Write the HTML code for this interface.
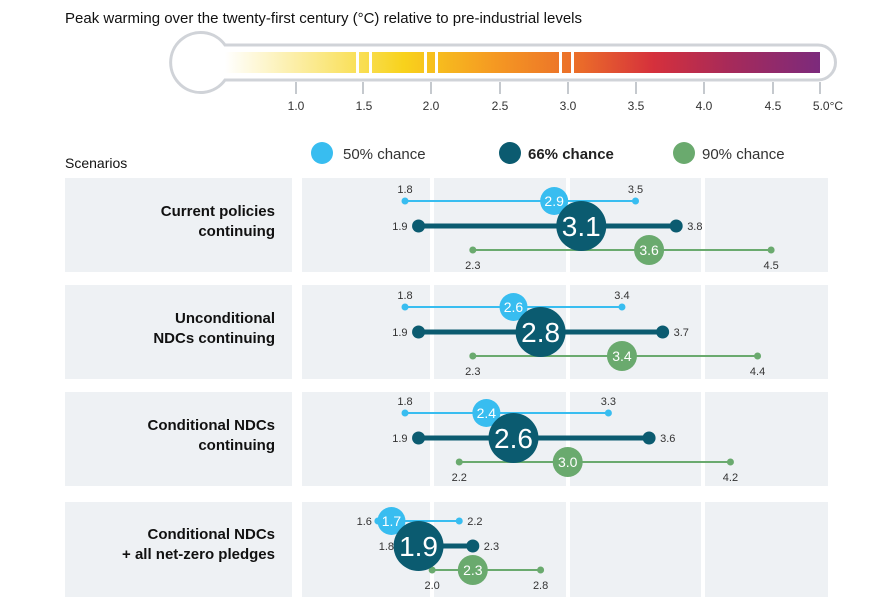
<!DOCTYPE html><html><head><style>body{margin:0;background:#fff}svg{display:block;font-family:"Liberation Sans",sans-serif}</style></head><body>
<svg width="881" height="613" viewBox="0 0 881 613">
<defs><linearGradient id="g" x1="225" x2="820" gradientUnits="userSpaceOnUse">
<stop offset="0" stop-color="#fff"/><stop offset="0.22" stop-color="#f9e05a"/><stop offset="0.3" stop-color="#f8d21c"/><stop offset="0.45" stop-color="#f59a22"/><stop offset="0.6" stop-color="#ea6a2a"/><stop offset="0.72" stop-color="#d5303c"/><stop offset="0.85" stop-color="#a62a5a"/><stop offset="1" stop-color="#7c2a7c"/></linearGradient></defs>
<text x="65" y="23" font-size="15" fill="#111">Peak warming over the twenty-first century (°C) relative to pre-industrial levels</text>
<path d="M225,45 L818,45 A17,17 0 0 1 818,80 L225,80 A30,30 0 1 1 225,45 Z" fill="#fff" stroke="#d0d3d8" stroke-width="3"/>
<rect x="222" y="52" width="598" height="21" fill="url(#g)"/>
<g fill="#fff"><rect x="356" y="52" width="3" height="21"/><rect x="369" y="52" width="3" height="21"/><rect x="424" y="52" width="3" height="21"/><rect x="435" y="52" width="3" height="21"/><rect x="559" y="52" width="3" height="21"/><rect x="571" y="52" width="3" height="21"/></g>
<g stroke="#c5c9ce" stroke-width="2"><line x1="296" y1="82" x2="296" y2="94"/><line x1="363" y1="82" x2="363" y2="94"/><line x1="431" y1="82" x2="431" y2="94"/><line x1="500" y1="82" x2="500" y2="94"/><line x1="568" y1="82" x2="568" y2="94"/><line x1="636" y1="82" x2="636" y2="94"/><line x1="704" y1="82" x2="704" y2="94"/><line x1="773" y1="82" x2="773" y2="94"/><line x1="820" y1="82" x2="820" y2="94"/></g>
<g font-size="12" fill="#333" text-anchor="middle"><text x="296" y="110">1.0</text><text x="364" y="110">1.5</text><text x="431" y="110">2.0</text><text x="500" y="110">2.5</text><text x="568" y="110">3.0</text><text x="636" y="110">3.5</text><text x="704" y="110">4.0</text><text x="773" y="110">4.5</text><text x="828" y="110">5.0°C</text></g>
<text x="65" y="168" font-size="14" fill="#111">Scenarios</text>
<circle cx="322" cy="153" r="11" fill="#38bdf0"/><text x="343" y="159" font-size="15" fill="#333">50% chance</text>
<circle cx="510" cy="153" r="11" fill="#0b5b70"/><text x="528" y="159" font-size="15" font-weight="bold" fill="#222">66% chance</text>
<circle cx="684" cy="153" r="11" fill="#6aaa6e"/><text x="702" y="159" font-size="15" fill="#333">90% chance</text>
<g fill="#eef1f4">
<rect x="65" y="178" width="227" height="94"/><rect x="302" y="178" width="526" height="94"/>
<rect x="65" y="285" width="227" height="94"/><rect x="302" y="285" width="526" height="94"/>
<rect x="65" y="392" width="227" height="94"/><rect x="302" y="392" width="526" height="94"/>
<rect x="65" y="502" width="227" height="95"/><rect x="302" y="502" width="526" height="95"/></g>
<g stroke="#fff" stroke-width="4"><line x1="432" y1="170" x2="432" y2="605"/><line x1="568" y1="170" x2="568" y2="605"/><line x1="703" y1="170" x2="703" y2="605"/></g>
<g font-size="15" font-weight="bold" fill="#111" text-anchor="end"><text x="275" y="216">Current policies</text><text x="275" y="236">continuing</text>
<text x="275" y="323">Unconditional</text><text x="275" y="343">NDCs continuing</text>
<text x="275" y="430">Conditional NDCs</text><text x="275" y="450">continuing</text>
<text x="275" y="539">Conditional NDCs</text><text x="275" y="559">+ all net-zero pledges</text></g>
<g id="rows" font-size="11" fill="#333"></g>
</svg>
<script>
const X=v=>405+(v-1.8)*135.6;
const rows=[[201,[1.8,3.5,2.9],[1.9,3.8,3.1],[2.3,4.5,3.6]],[307,[1.8,3.4,2.6],[1.9,3.7,2.8],[2.3,4.4,3.4]],[413,[1.8,3.3,2.4],[1.9,3.6,2.6],[2.2,4.2,3.0]],[521,[1.6,2.2,1.7],[1.8,2.3,1.9],[2.0,2.8,2.3]]];
let s='';const f=v=>v.toFixed(1);
rows.forEach((r,i)=>{const y=r[0],a=r[1],b=r[2],c=r[3];const y2=y+25,y3=y+49;const last=i==3;
s+=`<line x1="${X(c[0])}" y1="${y3}" x2="${X(c[1])}" y2="${y3}" stroke="#6aaa6e" stroke-width="2"/><circle cx="${X(c[0])}" cy="${y3}" r="3.5" fill="#6aaa6e"/><circle cx="${X(c[1])}" cy="${y3}" r="3.5" fill="#6aaa6e"/>`;
s+=`<text x="${X(c[0])}" y="${y3+19}" text-anchor="middle">${f(c[0])}</text><text x="${X(c[1])}" y="${y3+19}" text-anchor="middle">${f(c[1])}</text>`;
s+=`<line x1="${X(a[0])}" y1="${y}" x2="${X(a[1])}" y2="${y}" stroke="#38bdf0" stroke-width="2"/><circle cx="${X(a[0])}" cy="${y}" r="3.5" fill="#38bdf0"/><circle cx="${X(a[1])}" cy="${y}" r="3.5" fill="#38bdf0"/>`;
if(last){s+=`<text x="${X(a[0])-6}" y="${y+4}" text-anchor="end">${f(a[0])}</text><text x="${X(a[1])+8}" y="${y+4}">${f(a[1])}</text>`}
else s+=`<text x="${X(a[0])}" y="${y-8}" text-anchor="middle">${f(a[0])}</text><text x="${X(a[1])}" y="${y-8}" text-anchor="middle">${f(a[1])}</text>`;
s+=`<line x1="${X(b[0])}" y1="${y2}" x2="${X(b[1])}" y2="${y2}" stroke="#0b5b70" stroke-width="5"/><circle cx="${X(b[0])}" cy="${y2}" r="6.5" fill="#0b5b70"/><circle cx="${X(b[1])}" cy="${y2}" r="6.5" fill="#0b5b70"/>`;
s+=`<text x="${X(b[0])-11}" y="${y2+4}" text-anchor="end">${f(b[0])}</text><text x="${X(b[1])+11}" y="${y2+4}">${f(b[1])}</text>`;
s+=`<circle cx="${X(a[2])}" cy="${y}" r="14" fill="#38bdf0"/><text x="${X(a[2])}" y="${y+5}" font-size="14" fill="#fff" text-anchor="middle">${f(a[2])}</text>`;
s+=`<circle cx="${X(c[2])}" cy="${y3}" r="15" fill="#6aaa6e"/><text x="${X(c[2])}" y="${y3+5}" font-size="14" fill="#fff" text-anchor="middle">${f(c[2])}</text>`;
s+=`<circle cx="${X(b[2])}" cy="${y2}" r="25" fill="#0b5b70"/><text x="${X(b[2])}" y="${y2+10}" font-size="28" fill="#fff" text-anchor="middle">${f(b[2])}</text>`;
});
document.getElementById('rows').innerHTML=s;
</script>
</body></html>
